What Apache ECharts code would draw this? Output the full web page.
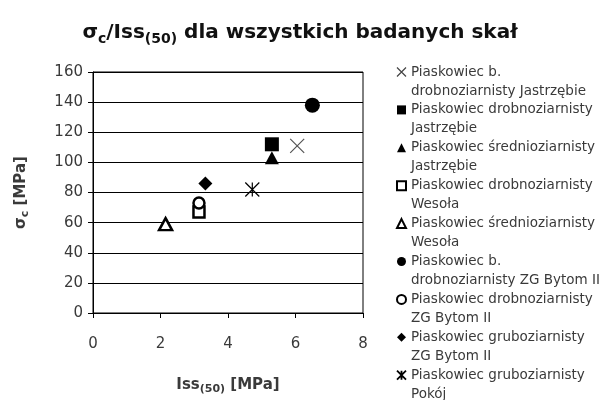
<!DOCTYPE html>
<html><head><meta charset="utf-8">
<script src="https://cdn.jsdelivr.net/npm/echarts@6/dist/echarts.min.js"></script>
<style>html,body{margin:0;background:#fff}#c{width:600px;height:400px}</style>
</head><body><div id="c"></div>
<script>
// ---- data ----
const seriesNames = [
  'Piaskowiec b. drobnoziarnisty Jastrzębie',
  'Piaskowiec drobnoziarnisty Jastrzębie',
  'Piaskowiec średnioziarnisty Jastrzębie',
  'Piaskowiec drobnoziarnisty Wesoła',
  'Piaskowiec średnioziarnisty Wesoła',
  'Piaskowiec b. drobnoziarnisty ZG Bytom II',
  'Piaskowiec drobnoziarnisty ZG Bytom II',
  'Piaskowiec gruboziarnisty ZG Bytom II',
  'Piaskowiec gruboziarnisty Pokój'
];
const legendLines = [
  ['Piaskowiec b.', 'drobnoziarnisty Jastrzębie'],
  ['Piaskowiec drobnoziarnisty', 'Jastrzębie'],
  ['Piaskowiec średnioziarnisty', 'Jastrzębie'],
  ['Piaskowiec drobnoziarnisty', 'Wesoła'],
  ['Piaskowiec średnioziarnisty', 'Wesoła'],
  ['Piaskowiec b.', 'drobnoziarnisty ZG Bytom II'],
  ['Piaskowiec drobnoziarnisty', 'ZG Bytom II'],
  ['Piaskowiec gruboziarnisty', 'ZG Bytom II'],
  ['Piaskowiec gruboziarnisty', 'Pokój']
];
const issValues   = [6.05, 5.3, 5.3, 3.14, 2.15, 6.5, 3.14, 3.33, 4.72];
const sigmaValues = [111, 112, 103, 67, 59, 138, 73, 86, 82];
const xTicks = [0, 2, 4, 6, 8];
const yTicks = [0, 20, 40, 60, 80, 100, 120, 140, 160];

// ---- styles ----
const FONT = 'DejaVu Sans';
const TXT = '#3a3a3a';
const markers = [
  {sym: 'path://M0,0L10,10M10,0L0,10', size: 14, style: {color: 'transparent', borderColor: '#555', borderWidth: 1.2},
   istyle: {color: 'transparent', borderColor: '#444', borderWidth: 1.2}},
  {sym: 'rect', size: 14, style: {color: '#000'}, istyle: {color: '#000', borderWidth: 0}},
  {sym: 'triangle', size: [14, 13], style: {color: '#000'}, istyle: {color: '#000', borderWidth: 0}},
  {sym: 'rect', size: 11, style: {color: '#fff', borderColor: '#000', borderWidth: 2.5},
   istyle: {color: '#fff', borderColor: '#000', borderWidth: 2}},
  {sym: 'triangle', size: [13, 12], style: {color: '#fff', borderColor: '#000', borderWidth: 2.5},
   istyle: {color: '#fff', borderColor: '#000', borderWidth: 2}},
  {sym: 'circle', size: 15, style: {color: '#000'}, istyle: {color: '#000', borderWidth: 0}},
  {sym: 'circle', size: 11, style: {color: '#fff', borderColor: '#000', borderWidth: 2.5},
   istyle: {color: '#fff', borderColor: '#000', borderWidth: 2}},
  {sym: 'diamond', size: 14, style: {color: '#000'}, istyle: {color: '#000', borderWidth: 0}},
  {sym: 'path://M0,0L10,10M10,0L0,10M5,0L5,10', size: 14, style: {color: 'transparent', borderColor: '#000', borderWidth: 1.2},
   istyle: {color: 'transparent', borderColor: '#000', borderWidth: 1.8}}
];

// leading empty line keeps the icon level with the first text line
const legendNameMap = {};
seriesNames.forEach((n, i) => { legendNameMap[n] = '\n' + legendLines[i].join('\n'); });

const chart = echarts.init(document.getElementById('c'), null, {renderer: 'canvas'});
chart.setOption({
  animation: false,
  backgroundColor: '#fff',
  title: {
    left: 'center', top: 15,
    text: '{m|σ}{s|c}{m|/Iss}{s|(50)}{m| dla wszystkich badanych skał}',
    textStyle: {
      rich: {
        m: {fontFamily: FONT, fontWeight: 'bold', fontSize: 20, color: '#111', lineHeight: 26},
        s: {fontFamily: FONT, fontWeight: 'bold', fontSize: 14, color: '#111', lineHeight: 8, verticalAlign: 'bottom'}
      }
    }
  },
  grid: {left: 93, right: 237, top: 72, bottom: 85, show: true, borderColor: '#000', borderWidth: 1, backgroundColor: 'transparent'},
  xAxis: {
    type: 'value', min: xTicks[0], max: xTicks[xTicks.length - 1], interval: 2,
    axisLine: {show: true, onZero: false, lineStyle: {color: '#000', width: 1}},
    axisTick: {show: true, length: 5, lineStyle: {color: '#000'}},
    splitLine: {show: false},
    axisLabel: {color: TXT, fontFamily: FONT, fontSize: 15, margin: 24},
    name: '{m|Iss}{s|(50)}{m| [MPa]}', nameLocation: 'middle', nameGap: 62,
    nameTextStyle: {
      rich: {
        m: {fontFamily: FONT, fontWeight: 'bold', fontSize: 15, color: TXT, lineHeight: 20},
        s: {fontFamily: FONT, fontWeight: 'bold', fontSize: 11, color: TXT, lineHeight: 6, verticalAlign: 'bottom'}
      }
    }
  },
  yAxis: {
    type: 'value', min: yTicks[0], max: yTicks[yTicks.length - 1], interval: 20,
    axisLine: {show: true, lineStyle: {color: '#000', width: 1}},
    axisTick: {show: true, length: 5, lineStyle: {color: '#000'}},
    splitLine: {show: true, lineStyle: {color: '#000', width: 1}},
    axisLabel: {color: TXT, fontFamily: FONT, fontSize: 15, margin: 10},
    name: '{m|σ}{s|c}{m| [MPa]}', nameLocation: 'middle', nameGap: 62, nameRotate: 90,
    nameTextStyle: {
      rich: {
        m: {fontFamily: FONT, fontWeight: 'bold', fontSize: 15, color: TXT, lineHeight: 20},
        s: {fontFamily: FONT, fontWeight: 'bold', fontSize: 11, color: TXT, lineHeight: 6, verticalAlign: 'bottom'}
      }
    }
  },
  legend: {
    orient: 'vertical', left: 396, top: 43.5, height: 700, padding: 0, itemGap: -19.1,
    itemWidth: 9, itemHeight: 9,
    formatter: n => legendNameMap[n],
    textStyle: {fontFamily: FONT, fontSize: 13.5, color: TXT, lineHeight: 19},
    data: seriesNames.map((n, i) => ({name: n, itemStyle: markers[i].istyle}))
  },
  series: seriesNames.map((n, i) => ({
    name: n, type: 'scatter',
    symbol: markers[i].sym, symbolSize: markers[i].size,
    itemStyle: Object.assign({opacity: 1}, markers[i].style),
    emphasis: {disabled: true},
    data: [[issValues[i], sigmaValues[i]]]
  }))
});
</script></body></html>
